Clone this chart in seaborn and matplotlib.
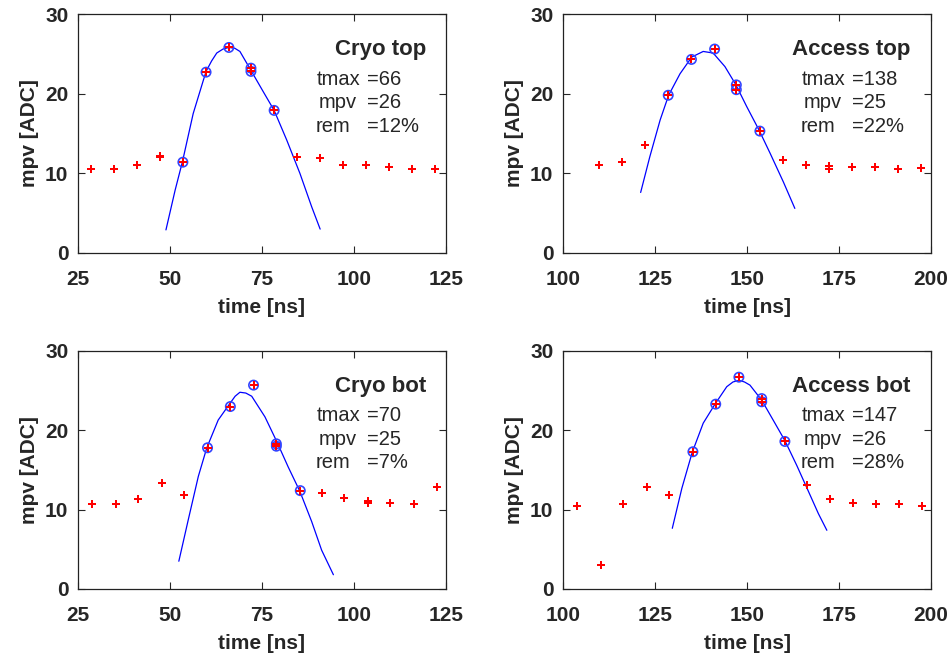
import numpy as np
import pandas as pd
import matplotlib
matplotlib.use("Agg")
import matplotlib.pyplot as plt
import seaborn as sns

# ---- data ----
# Cryo top
ct_t_bg = [28.4, 34.7, 41.0, 47.3, 47.3, 84.5, 90.8, 97.1, 103.3, 109.6, 115.8, 122.1]
ct_v_bg = [10.5, 10.6, 11.0, 12.0, 12.2, 12.1, 11.9, 11.1, 11.0, 10.8, 10.5, 10.6]
ct_t_fit = [53.5, 59.8, 66.0, 72.0, 72.0, 78.3]
ct_v_fit = [11.4, 22.7, 25.8, 23.2, 22.8, 17.9]
ct_t_curve = [48.9, 51.4, 53.4, 56.3, 59.8, 61.3, 62.7, 64.4, 66.0, 67.6, 69.0, 71.9, 75.4, 78.3, 81.7, 85.3, 88.5, 90.8]
ct_v_curve = [2.9, 7.9, 11.5, 17.5, 22.8, 24.1, 25.1, 25.6, 25.8, 25.7, 25.3, 23.0, 20.2, 17.9, 14.2, 10.0, 5.8, 3.0]

# Access top
at_t_bg = [109.8, 116.0, 122.3, 159.7, 165.9, 172.2, 172.2, 178.4, 184.7, 190.9, 197.2]
at_v_bg = [11.0, 11.4, 13.5, 11.7, 11.1, 10.9, 10.6, 10.8, 10.8, 10.6, 10.7]
at_t_fit = [128.6, 134.9, 141.2, 147.1, 147.1, 153.5]
at_v_fit = [19.8, 24.3, 25.6, 21.1, 20.5, 15.3]
at_t_curve = [121.1, 123.6, 126.4, 128.7, 131.8, 135.0, 138.1, 140.8, 144.0, 147.0, 149.9, 153.3, 156.3, 159.9, 163.0]
at_v_curve = [7.6, 12.1, 16.7, 19.8, 22.5, 24.6, 25.3, 25.1, 23.4, 21.1, 18.4, 15.4, 12.5, 8.9, 5.6]

# Cryo bot
cb_t_bg = [28.9, 35.2, 41.4, 47.7, 53.9, 91.2, 97.4, 103.7, 103.7, 109.9, 116.3, 122.6]
cb_v_bg = [10.7, 10.7, 11.3, 13.3, 11.8, 12.1, 11.5, 11.1, 10.9, 10.9, 10.7, 12.9]
cb_t_fit = [60.2, 66.4, 72.7, 78.9, 78.9, 85.4]
cb_v_fit = [17.8, 23.0, 25.7, 18.3, 18.0, 12.4]
cb_t_curve = [52.4, 55.0, 57.7, 60.0, 63.1, 66.3, 67.7, 69.0, 70.6, 72.2, 75.8, 79.0, 82.1, 85.3, 88.5, 91.2, 94.4]
cb_v_curve = [3.5, 8.8, 14.2, 17.8, 21.3, 23.4, 24.3, 24.8, 24.7, 24.3, 21.7, 18.6, 15.4, 12.3, 8.5, 4.9, 1.8]

# Access bot
ab_t_bg = [103.9, 110.2, 116.4, 122.7, 128.9, 166.2, 172.5, 178.8, 185.0, 191.3, 197.6]
ab_v_bg = [10.5, 3.0, 10.7, 12.8, 11.8, 13.1, 11.3, 10.8, 10.7, 10.7, 10.5]
ab_t_fit = [135.3, 141.5, 147.8, 154.0, 154.0, 160.3]
ab_v_fit = [17.3, 23.3, 26.7, 24.0, 23.6, 18.6]
ab_t_curve = [129.7, 132.3, 135.1, 138.1, 141.3, 144.5, 146.2, 147.8, 149.3, 150.8, 154.0, 157.1, 160.3, 163.5, 166.7, 169.4, 171.7]
ab_v_curve = [7.65, 12.7, 17.2, 20.9, 23.3, 25.5, 26.1, 26.3, 26.1, 25.7, 23.8, 21.3, 18.7, 15.6, 12.3, 9.5, 7.4]

titles = ["Cryo top", "Access top", "Cryo bot", "Access bot"]
tmax_vals = [66, 138, 70, 147]
mpv_vals = [26, 25, 25, 26]
rem_vals = [12, 22, 7, 28]
xlims = [(25, 125), (100, 200), (25, 125), (100, 200)]
xticks_list = [[25, 50, 75, 100, 125], [100, 125, 150, 175, 200],
               [25, 50, 75, 100, 125], [100, 125, 150, 175, 200]]

panels = [
    (ct_t_bg, ct_v_bg, ct_t_fit, ct_v_fit, ct_t_curve, ct_v_curve),
    (at_t_bg, at_v_bg, at_t_fit, at_v_fit, at_t_curve, at_v_curve),
    (cb_t_bg, cb_v_bg, cb_t_fit, cb_v_fit, cb_t_curve, cb_v_curve),
    (ab_t_bg, ab_v_bg, ab_t_fit, ab_v_fit, ab_t_curve, ab_v_curve),
]

sns.set_style("ticks")
plt.rcParams['font.family'] = ['Liberation Sans', 'DejaVu Sans']
plt.rcParams['xtick.direction'] = 'in'
plt.rcParams['ytick.direction'] = 'in'
plt.rcParams['xtick.top'] = True
plt.rcParams['ytick.right'] = True

fig = plt.figure(figsize=(9.52, 6.59), dpi=100)
W, H = 952, 659
boxes = [(78, 14, 446, 253), (563, 14, 931, 253), (78, 351, 446, 589), (563, 351, 931, 589)]

for i, (box, data) in enumerate(zip(boxes, panels)):
    x0, y0, x1, y1 = box
    ax = fig.add_axes([x0 / W, 1 - y1 / H, (x1 - x0) / W, (y1 - y0) / H])
    t_bg, v_bg, t_fit, v_fit, t_c, v_c = data

    curve = pd.DataFrame({"t": t_c, "v": v_c})
    sns.lineplot(data=curve, x="t", y="v", ax=ax, color="#0000ff", lw=0.9,
                 estimator=None, sort=False)
    fit = pd.DataFrame({"t": t_fit, "v": v_fit})
    sns.scatterplot(data=fit, x="t", y="v", ax=ax, marker="o", s=45,
                    facecolors="none", edgecolor="#3344ff", linewidth=1.2, zorder=3)
    allpts = pd.DataFrame({"t": t_bg + t_fit, "v": v_bg + v_fit})
    sns.scatterplot(data=allpts, x="t", y="v", ax=ax, marker="P", s=30,
                    color="#ff0000", linewidth=0, zorder=4)

    ax.set_xlim(*xlims[i])
    ax.set_ylim(0, 30)
    ax.set_xticks(xticks_list[i])
    ax.set_yticks([0, 10, 20, 30])
    ax.tick_params(labelsize=15, length=5, width=0.8, pad=7)
    ax.tick_params(axis="x", pad=12)
    for lab in ax.get_xticklabels() + ax.get_yticklabels():
        lab.set_fontweight("bold")
    for sp in ax.spines.values():
        sp.set_linewidth(0.9)
        sp.set_color("#222222")
    ax.set_xlabel("time [ns]", fontsize=15, fontweight="bold", labelpad=7)
    ax.set_ylabel("mpv [ADC]", fontsize=15, fontweight="bold", labelpad=4)

    ax.text(0.945, 0.85, titles[i], transform=ax.transAxes, ha="right", va="center",
            fontsize=16, fontweight="bold")
    rows = [("tmax", "=%d" % tmax_vals[i], 0.649, 0.728),
            ("mpv", "=%d" % mpv_vals[i], 0.655, 0.628),
            ("rem", "=%d%%" % rem_vals[i], 0.647, 0.531)]
    for lab, val, xl, yy in rows:
        ax.text(xl, yy, lab, transform=ax.transAxes, ha="left", va="center", fontsize=14.5)
        ax.text(0.785, yy, val, transform=ax.transAxes, ha="left", va="center", fontsize=14.5)

fig.savefig("out.png", dpi=100)
